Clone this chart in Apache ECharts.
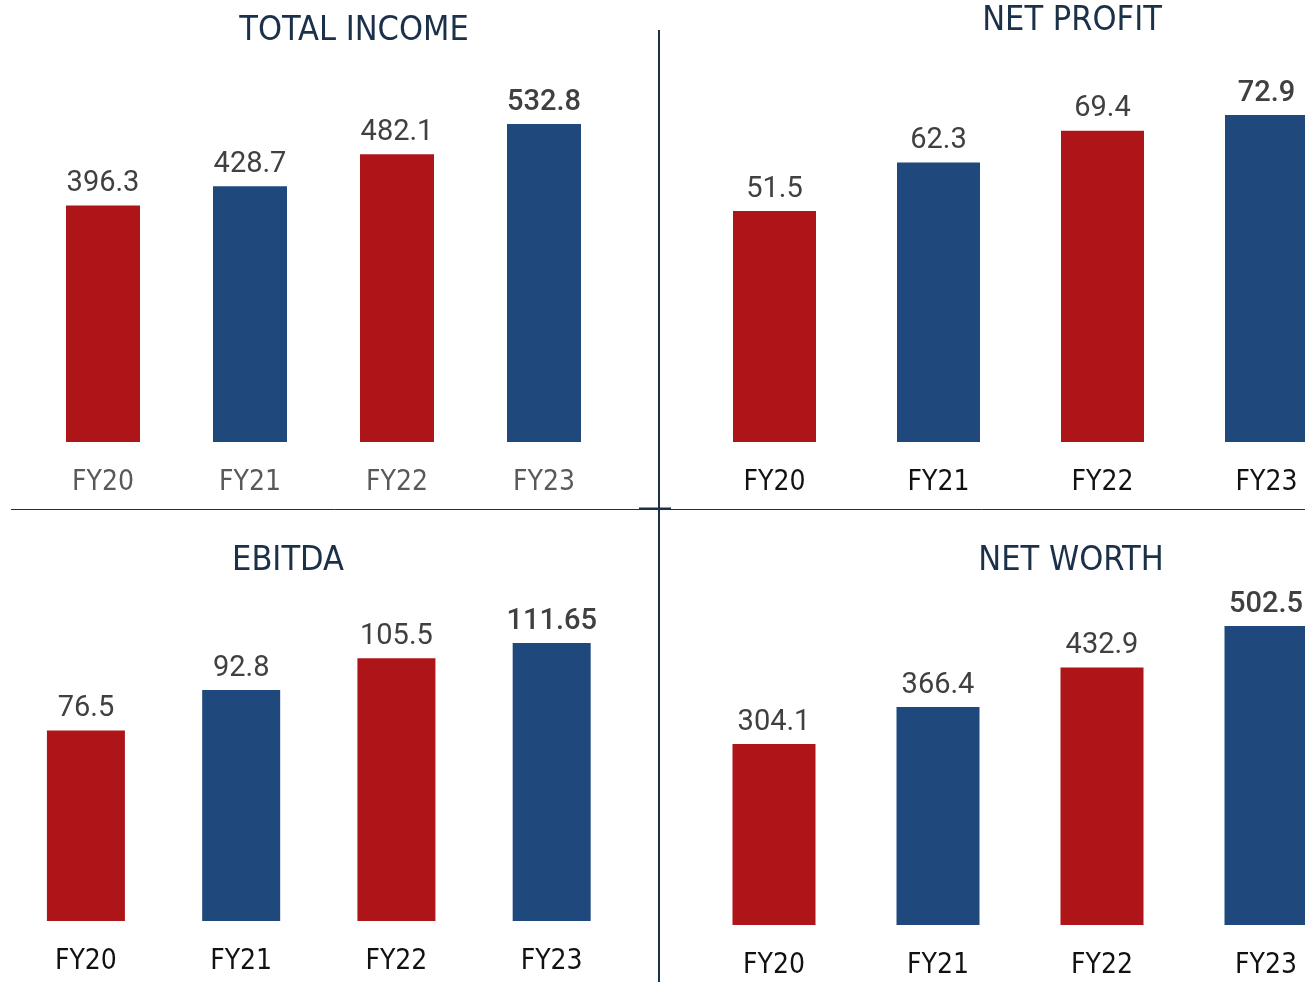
<!DOCTYPE html>
<html>
<head>
<meta charset="utf-8">
<title>Financial highlights</title>
<script src="https://cdn.jsdelivr.net/npm/echarts@6/dist/echarts.min.js"></script>
<style>
	html, body { margin: 0; padding: 0; background: #fff; overflow: hidden; }
	/* wider than the window so the right panels can run off the edge */
	#chart { width: 1400px; height: 982px; }
</style>
</head>
<body>
<div id="chart"></div>
<script>
// categories and values per panel
const years = ['FY20', 'FY21', 'FY22', 'FY23']
const totalIncome = [396.3, 428.7, 482.1, 532.8]
const netProfit = [51.5, 62.3, 69.4, 72.9]
const ebitda = [76.5, 92.8, 105.5, 111.65]
const netWorth = [304.1, 366.4, 432.9, 502.5]
const panelTitles = ['TOTAL INCOME', 'NET PROFIT', 'EBITDA', 'NET WORTH']

const RED = '#AE1518'
const BLUE = '#1F497D'
const NAVY = '#1B3049'
const barColors = [RED, BLUE, RED, BLUE]
const NARROW = '"DejaVu Sans Condensed", "Liberation Sans Narrow", "DejaVu Sans", sans-serif'

// layout of the four panels (grid box, bar width, axis label colour)
const panels = [
	{ values: totalIncome, grid: { left: 29.5, width: 588, top: 124, bottom: 540 }, barWidth: 74, axisColor: '#595959' },
	{ values: netProfit, grid: { left: 692.5, width: 656, top: 115, bottom: 540 }, barWidth: 83, axisColor: '#111' },
	{ values: ebitda, grid: { left: 8.3, width: 621, top: 643, bottom: 61 }, barWidth: 78, axisColor: '#111' },
	{ values: netWorth, grid: { left: 692, width: 656, top: 626, bottom: 57 }, barWidth: 83, axisColor: '#111' },
]

const chart = echarts.init(document.getElementById('chart'))

const titleText = (text, x, y) => ({
	type: 'text',
	x,
	y,
	style: {
		text,
		fill: NAVY,
		font: '34px ' + NARROW,
		textAlign: 'center',
		textVerticalAlign: 'middle',
	},
})

const option = {
	animation: false,
	grid: panels.map(p => ({ ...p.grid, containLabel: false })),
	xAxis: panels.map((p, i) => ({
		type: 'category',
		gridIndex: i,
		data: years,
		axisLine: { show: false },
		axisTick: { show: false },
		axisLabel: {
			color: p.axisColor,
			fontFamily: NARROW,
			fontSize: 28,
			margin: 27,
		},
	})),
	yAxis: panels.map((p, i) => ({
		type: 'value',
		gridIndex: i,
		min: 0,
		max: 'dataMax',
		show: false,
		splitLine: { show: false },
	})),
	series: panels.map((p, i) => ({
		type: 'bar',
		xAxisIndex: i,
		yAxisIndex: i,
		barWidth: p.barWidth,
		label: {
			show: true,
			position: 'top',
			distance: 7,
			color: '#404040',
			fontFamily: 'Roboto',
			fontSize: 29,
		},
		data: p.values.map((v, j) => {
			const item = { value: v, itemStyle: { color: barColors[j] } }
			// latest year is printed heavier
			if (j === p.values.length - 1) {
				item.label = { fontWeight: 500, color: '#404040' }
			}
			return item
		}),
	})),
	graphic: [
		// titles
		titleText(panelTitles[0], 354, 31),
		titleText(panelTitles[1], 1072, 21.5),
		titleText(panelTitles[2], 288, 561),
		titleText(panelTitles[3], 1071, 561),
		// dividers
		{ type: 'line', shape: { x1: 659, y1: 30, x2: 659, y2: 982 }, style: { stroke: NAVY, lineWidth: 2 } },
		{ type: 'line', shape: { x1: 11, y1: 509.5, x2: 1305, y2: 509.5 }, style: { stroke: NAVY, lineWidth: 1 } },
		{ type: 'line', shape: { x1: 639, y1: 508.5, x2: 671, y2: 508.5 }, style: { stroke: NAVY, lineWidth: 2 } },
	],
}

chart.setOption(option)
</script>
</body>
</html>
